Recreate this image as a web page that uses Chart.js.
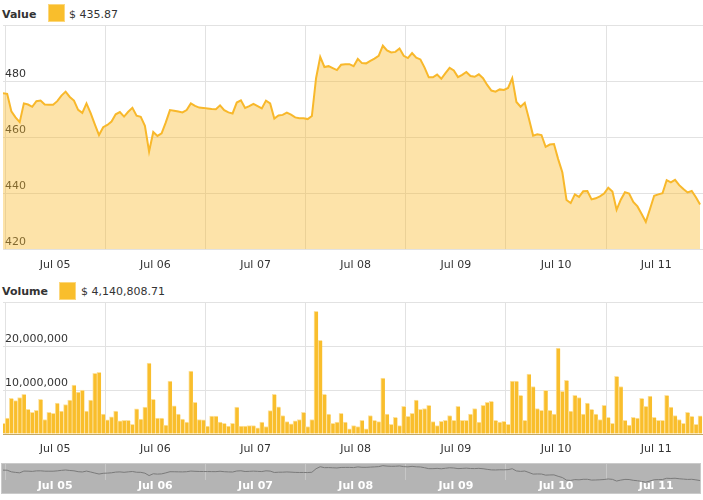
<!DOCTYPE html>
<html>
<head>
<meta charset="utf-8">
<title>Value and volume</title>
<script src="https://cdn.jsdelivr.net/npm/chart.js@4.4.1/dist/chart.umd.min.js"></script>
<style>
  html, body { margin: 0; padding: 0; background: #fff; }
  body { position: relative; width: 703px; height: 500px; overflow: hidden;
         font-family: "DejaVu Sans", Verdana, sans-serif; font-size: 11px; color: #333; }
  .txt { position: absolute; line-height: 17px; white-space: nowrap; }
  .bold { font-weight: bold; }
  .swatch { position: absolute; width: 15px; height: 16px; background: #f9be2c; border: 1px solid #fcd77c; }
  canvas { position: absolute; left: 0; }
  #navBox { position: absolute; left: 1px; top: 463px; width: 698px; height: 29px;
            background: #b4b4b4; border: 1px solid #cacaca; }
</style>
</head>
<body>
<div class="txt bold" style="left:2px; top:6px;">Value</div>
<div class="swatch" style="left:48px; top:4px;"></div>
<div class="txt" id="valueText" style="left:69px; top:6px;"></div>

<div class="txt bold" style="left:2px; top:283px;">Volume</div>
<div class="swatch" style="left:59px; top:282px;"></div>
<div class="txt" id="volumeText" style="left:81px; top:283px;"></div>

<canvas id="valueChart" width="703" height="251" style="top:24px"></canvas>
<canvas id="volumeChart" width="703" height="157" style="top:301px"></canvas>
<div id="navBox"></div>
<canvas id="navChart" width="703" height="31" style="top:463px"></canvas>

<script>
const days = ['Jul 05', 'Jul 06', 'Jul 07', 'Jul 08', 'Jul 09', 'Jul 10', 'Jul 11'];
const firstHour = -0.5; // first hourly sample sits half an hour before Jul 05 00:00
const valueTicks = [420, 440, 460, 480, 500];
const volumeTicks = [0, 10, 20, 30]; // millions
const navRange = [438, 499]; // navigator: line may run below its plot, under the labels

// hourly value, $
const prices = [
  475.6, 475.4, 469.2, 467.0, 465.3, 472.0, 471.6, 470.8, 472.8, 473.0,
  471.6, 471.5, 471.5, 472.8, 474.8, 476.2, 474.3, 473.0, 469.7, 468.6,
  472.0, 468.5, 464.5, 460.7, 463.5, 464.3, 465.5, 468.1, 468.9, 467.3,
  469.0, 470.4, 467.6, 467.2, 464.0, 454.8, 461.8, 460.4, 461.3, 465.2,
  469.6, 469.4, 469.1, 468.8, 469.6, 472.0, 471.1, 470.5, 470.4, 470.2,
  470.0, 469.9, 471.3, 469.6, 468.8, 468.4, 472.3, 473.1, 470.4, 471.0,
  471.8, 471.0, 470.2, 473.0, 472.0, 466.6, 467.7, 467.9, 468.7, 468.0,
  467.0, 466.7, 466.7, 466.4, 467.5, 481.0, 488.6, 485.0, 485.3, 484.6,
  483.9, 485.8, 486.0, 486.0, 485.3, 487.9, 486.4, 486.3, 487.2, 488.0,
  489.0, 492.6, 490.9, 490.2, 490.4, 491.6, 489.0, 488.2, 490.0, 488.3,
  487.7, 484.8, 481.3, 481.3, 482.3, 480.8, 482.8, 484.7, 483.8, 481.4,
  482.2, 483.2, 481.8, 481.5, 482.4, 481.0, 478.6, 476.6, 476.2, 477.0,
  476.8, 477.5, 481.0, 472.5, 470.8, 472.2, 466.5, 460.5, 461.0, 460.7,
  456.5, 457.3, 457.5, 452.1, 447.4, 437.5, 436.4, 439.5, 438.6, 440.6,
  440.7, 437.7, 438.1, 438.8, 439.8, 441.9, 440.5, 434.0, 437.6, 440.3,
  439.8, 436.8, 435.2, 432.5, 429.7, 434.3, 439.0, 439.5, 439.9, 444.6,
  443.8, 444.7, 442.8, 441.4, 440.2, 440.7, 438.5, 435.87
];

// hourly volume, millions of $
const volumes = [
  2.4, 3.6, 8.1, 7.6, 8.3, 9.0, 5.6, 4.9, 5.4, 7.9,
  3.3, 4.9, 4.7, 7.0, 5.2, 6.7, 7.7, 11.1, 9.5, 10.0,
  5.2, 7.7, 13.8, 14.0, 4.5, 3.2, 3.9, 5.2, 3.0, 3.1,
  3.1, 2.2, 5.7, 3.4, 6.1, 16.1, 7.9, 3.6, 3.6, 2.0,
  12.0, 6.4, 4.5, 3.4, 2.7, 14.3, 7.2, 3.3, 3.2, 1.8,
  4.1, 4.1, 2.7, 2.4, 1.8, 2.4, 6.1, 1.8, 1.8, 1.9,
  1.9, 1.4, 2.7, 1.7, 5.3, 9.0, 6.2, 4.2, 2.8, 2.3,
  3.0, 3.3, 4.9, 1.7, 3.3, 27.9, 21.3, 9.0, 4.5, 2.4,
  2.7, 4.7, 2.7, 1.2, 1.9, 1.7, 3.1, 1.2, 4.2, 3.1,
  2.8, 12.7, 4.5, 2.2, 3.8, 1.9, 6.3, 4.0, 4.7, 7.7,
  5.6, 5.8, 6.5, 2.8, 1.9, 2.9, 3.1, 4.2, 3.1, 6.3,
  3.1, 3.1, 4.5, 5.8, 2.7, 6.5, 7.2, 7.4, 3.1, 2.7,
  2.9, 2.2, 12.0, 12.0, 8.8, 3.1, 13.6, 10.8, 5.8, 5.4,
  9.9, 5.4, 4.5, 19.5, 9.7, 12.2, 5.2, 8.8, 8.3, 4.5,
  7.0, 5.6, 4.5, 3.3, 6.5, 3.8, 2.4, 13.1, 10.8, 3.1,
  2.0, 3.8, 3.6, 8.1, 6.3, 8.6, 3.8, 3.1, 3.1, 8.8,
  6.1, 4.2, 3.3, 2.4, 4.9, 4.0, 2.2, 4.14080871
];

const FONT = { family: '"DejaVu Sans", Verdana, sans-serif', size: 11 };
const GRID = '#e2e2e2';
const GOLD = '#f8b82b';

const asPoints = arr => arr.map((v, i) => ({ x: firstHour + i, y: v }));

document.getElementById('valueText').textContent = '$ ' + prices[prices.length - 1].toFixed(2);
document.getElementById('volumeText').textContent = '$ ' +
  (volumes[volumes.length - 1] * 1e6).toLocaleString('en-US', { minimumFractionDigits: 2, maximumFractionDigits: 2 });

// day boundaries get a grid line, day middles get the label
function timeAxis(height, padding, gridColor, tickColor, bold) {
  return {
    type: 'linear',
    min: firstHour,
    max: 167.2,
    offset: false,
    afterBuildTicks: scale => {
      const t = [];
      days.forEach((d, k) => { t.push({ value: k * 24 }); t.push({ value: k * 24 + 12 }); });
      scale.ticks = t;
    },
    afterFit: scale => { scale.height = height; scale.paddingLeft = 0; scale.paddingRight = 0; },
    border: { display: false },
    grid: {
      offset: false,
      drawTicks: false,
      color: c => (c.tick && c.tick.value % 24 === 0) ? gridColor : 'rgba(0,0,0,0)'
    },
    ticks: {
      autoSkip: false,
      maxRotation: 0,
      padding: padding,
      color: tickColor,
      font: Object.assign({}, FONT, bold ? { weight: 'bold' } : {}),
      callback: v => v % 24 === 12 ? days[(v - 12) / 24] : ''
    }
  };
}

function valueAxis(ticks, fmt) {
  const top = ticks[ticks.length - 1];
  return {
    min: ticks[0],
    max: top,
    afterBuildTicks: scale => { scale.ticks = ticks.map(v => ({ value: v })); },
    afterFit: scale => { scale.width = 0; scale.paddingTop = 0; scale.paddingBottom = 0; },
    border: { display: false },
    grid: { drawTicks: false, color: GRID },
    ticks: {
      mirror: true,
      padding: 2,
      labelOffset: -7,
      color: '#333',
      font: FONT,
      callback: v => v === top ? '' : fmt(v)
    }
  };
}

const common = {
  responsive: false,
  animation: false,
  devicePixelRatio: 1,
  layout: { padding: { left: 3, right: 0, top: 1, bottom: 0 } },
  plugins: { legend: { display: false }, tooltip: { enabled: false } }
};

new Chart(document.getElementById('valueChart'), {
  type: 'line',
  data: {
    datasets: [{
      data: asPoints(prices),
      borderColor: GOLD,
      borderWidth: 2,
      backgroundColor: 'rgba(249,185,40,0.4)',
      fill: 'start',
      pointRadius: 0,
      tension: 0
    }]
  },
  options: Object.assign({}, common, {
    scales: {
      x: timeAxis(26, 10, GRID, '#333', false),
      y: valueAxis(valueTicks, v => String(v))
    }
  })
});

const volX = timeAxis(24, 9, GRID, '#333', false);
volX.border = { display: true, color: 'rgb(196,168,100)', width: 1 };

new Chart(document.getElementById('volumeChart'), {
  type: 'bar',
  data: {
    datasets: [{
      data: asPoints(volumes),
      backgroundColor: '#f9be2c',
      borderColor: '#fde2a0',
      borderWidth: { left: 1, top: 1, right: 0, bottom: 0 },
      barPercentage: 1,
      categoryPercentage: 1
    }]
  },
  options: Object.assign({}, common, {
    scales: {
      x: volX,
      y: valueAxis(volumeTicks, v => (v * 1e6).toLocaleString('en-US'))
    }
  })
});

new Chart(document.getElementById('navChart'), {
  type: 'line',
  data: {
    datasets: [{
      data: asPoints(prices),
      borderColor: '#7a7a7a',
      borderWidth: 1,
      fill: false,
      pointRadius: 0,
      tension: 0,
      clip: false
    }]
  },
  options: Object.assign({}, common, {
    scales: {
      x: timeAxis(14, 0, 'rgba(255,255,255,0.25)', '#ffffff', true),
      y: { display: false, min: navRange[0], max: navRange[1] }
    }
  })
});
</script>
</body>
</html>
